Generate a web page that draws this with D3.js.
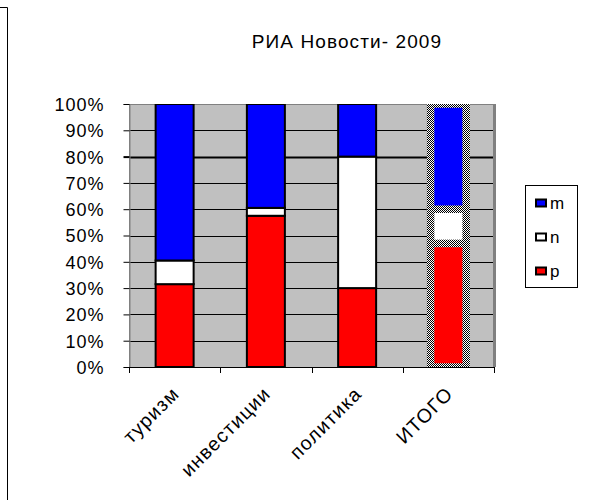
<!DOCTYPE html>
<html>
<head>
<meta charset="utf-8">
<script src="https://cdn.jsdelivr.net/npm/d3@7"></script>
<style>
  html, body { margin: 0; padding: 0; background: #fff; }
  svg { display: block; }
  text { font-family: "Liberation Sans", Arial, sans-serif; fill: #000; }
</style>
</head>
<body>
<svg id="chart" width="597" height="502"></svg>
<script>
// Share of coverage per topic, percent of each column
const categories = ["туризм", "инвестиции", "политика", "ИТОГО"];
const seriesKeys = ["p", "n", "m"];           // stacked bottom → top
const pValues = [31.5, 57.5, 30, 47];
const nValues = [9, 3, 50, 13];
const mValues = [59.5, 39.5, 20, 40];
const yTicks = [0, 10, 20, 30, 40, 50, 60, 70, 80, 90, 100];
const legendOrder = ["m", "n", "p"];
const title = "РИА Новости- 2009";

const colors = { m: "#0000ff", n: "#ffffff", p: "#ff0000" };

const rows = categories.map((c, i) => ({ cat: c, p: pValues[i], n: nValues[i], m: mValues[i] }));
const stacked = d3.stack().keys(seriesKeys)(rows);

const svg = d3.select("#chart");
const plot = { left: 129, right: 494, top: 104, bottom: 367 };

const x = d3.scaleBand().domain(categories).range([plot.left, plot.right]).padding(0);
const y = d3.scaleLinear().domain([0, 100]).range([plot.bottom, plot.top]);

// checkered fill for the total column's outline
const defs = svg.append("defs");
const pat = defs.append("pattern").attr("id", "checker")
  .attr("patternUnits", "userSpaceOnUse").attr("width", 2).attr("height", 2);
pat.append("rect").attr("width", 2).attr("height", 2).attr("fill", "#fff");
pat.append("rect").attr("width", 1).attr("height", 1).attr("fill", "#000");
pat.append("rect").attr("x", 1).attr("y", 1).attr("width", 1).attr("height", 1).attr("fill", "#000");
defs.append("clipPath").attr("id", "plotClip").append("rect")
  .attr("x", plot.left).attr("y", plot.top)
  .attr("width", plot.right - plot.left).attr("height", plot.bottom - plot.top);

// outer frame fragment on the left
svg.append("path").attr("d", "M0,7.5H7.5V500").attr("fill", "none").attr("stroke", "#000").attr("stroke-width", 1);

// title
svg.append("text").attr("x", 347).attr("y", 48).attr("text-anchor", "middle")
  .style("font-size", "19px").style("letter-spacing", "1.1px").text(title);

// plot background
svg.append("rect").attr("x", plot.left).attr("y", plot.top)
  .attr("width", plot.right - plot.left).attr("height", plot.bottom - plot.top)
  .attr("fill", "#c0c0c0");

// gridlines
svg.append("g").selectAll("line").data(yTicks.filter(t => t > 0 && t < 100)).join("line")
  .attr("x1", plot.left).attr("x2", plot.right)
  .attr("y1", d => Math.round(y(d)) + 0.5).attr("y2", d => Math.round(y(d)) + 0.5)
  .attr("stroke", "#000").attr("stroke-width", d => d === 80 ? 2 : 1);

// plot border
svg.append("path")
  .attr("d", `M${plot.left + 0.5},${plot.bottom}V${plot.top + 0.5}H${plot.right}`)
  .attr("fill", "none").attr("stroke", "#808080").attr("stroke-width", 1);
svg.append("line").attr("x1", plot.right + 0.5).attr("x2", plot.right + 0.5)
  .attr("y1", plot.top).attr("y2", plot.bottom)
  .attr("stroke", "#808080").attr("stroke-width", 3);

// bars
const barW = 38;
const totalW = 35.5;
const barsG = svg.append("g").attr("clip-path", "url(#plotClip)");
stacked.forEach(series => {
  barsG.selectAll(null).data(series).join("rect")
    .attr("x", d => {
      const c = x(d.data.cat) + x.bandwidth() / 2;
      return d.data.cat === "ИТОГО" ? c - totalW / 2 : c - barW / 2;
    })
    .attr("width", d => d.data.cat === "ИТОГО" ? totalW : barW)
    .attr("y", d => y(d[1]))
    .attr("height", d => y(d[0]) - y(d[1]))
    .attr("fill", colors[series.key])
    .attr("stroke", d => d.data.cat === "ИТОГО" ? "url(#checker)" : "#000")
    .attr("stroke-width", d => d.data.cat === "ИТОГО" ? 7.5 : 2);
});

// y axis
const yAxis = svg.append("g").attr("transform", `translate(${plot.left + 0.5},0)`)
  .call(d3.axisLeft(y).tickValues(yTicks).tickFormat(d => d + "%").tickSize(6).tickPadding(19));
yAxis.select(".domain").attr("stroke", "#808080");
yAxis.selectAll(".tick line").attr("stroke", "#000").attr("stroke-width", d => d === 80 ? 2 : 1);
yAxis.selectAll(".tick text").style("font-size", "18px").style("letter-spacing", "1px")
  .style("font-family", "'Liberation Sans', Arial, sans-serif").attr("dy", "0.36em");

// x axis
const xTickPos = categories.map(c => x(c)).concat([plot.right]);
const xAxisG = svg.append("g");
xAxisG.append("line").attr("x1", plot.left).attr("x2", plot.right + 1)
  .attr("y1", plot.bottom + 0.5).attr("y2", plot.bottom + 0.5).attr("stroke", "#000");
xAxisG.selectAll("line.tick").data(xTickPos).join("line").attr("class", "tick")
  .attr("x1", d => Math.round(d) + 0.5).attr("x2", d => Math.round(d) + 0.5)
  .attr("y1", plot.bottom).attr("y2", plot.bottom + 6).attr("stroke", "#000");
xAxisG.selectAll("text").data(categories).join("text")
  .attr("transform", d => `translate(${x(d) + x.bandwidth() / 2 + 6},${plot.bottom + 28}) rotate(-45)`)
  .attr("text-anchor", "end")
  .style("font-size", "19.5px").style("letter-spacing", "1.2px")
  .text(d => d);

// legend
const lg = svg.append("g");
lg.append("rect").attr("x", 525.5).attr("y", 185.5).attr("width", 52).attr("height", 102)
  .attr("fill", "#fff").attr("stroke", "#000").attr("stroke-width", 1);
const legendY = d3.scalePoint().domain(legendOrder).range([203, 271]);
const items = lg.selectAll("g.item").data(legendOrder).join("g").attr("class", "item")
  .attr("transform", d => `translate(0,${legendY(d)})`);
items.append("rect").attr("x", 536).attr("y", -3.5).attr("width", 10).attr("height", 7)
  .attr("fill", d => colors[d]).attr("stroke", "#000").attr("stroke-width", 2);
items.append("text").attr("x", 550).attr("y", 6)
  .style("font-size", "17px").text(d => d);
</script>
</body>
</html>
